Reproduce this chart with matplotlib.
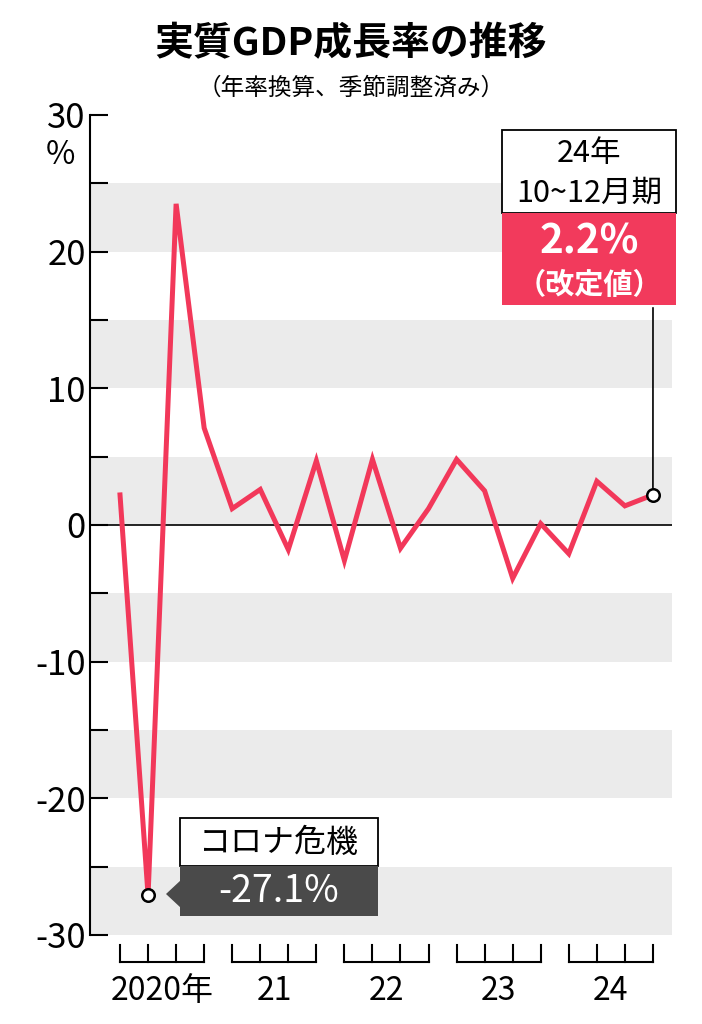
import matplotlib
matplotlib.use("Agg")
import matplotlib.pyplot as plt
from matplotlib.patches import Rectangle, Polygon

plt.rcParams['font.family'] = ['Noto Sans CJK JP', 'DejaVu Sans']

years = ['2020年', '21', '22', '23', '24']
growth = [2.2, -27.1, 23.5, 7.1,
          1.2, 2.6, -1.8, 4.7,
          -2.6, 4.8, -1.7, 1.2,
          4.8, 2.5, -3.9, 0.1,
          -2.1, 3.2, 1.4, 2.2]
yticks = [30, 20, 10, 0, -10, -20, -30]
ytick_labels = ['30', '20', '10', '0', '-10', '-20', '-30']

W, H = 702, 1024
fig = plt.figure(figsize=(W/100, H/100), dpi=100)
def fx(x): return x / W
def fy(y): return 1 - y / H

ax = fig.add_axes([fx(90), fy(935), fx(672) - fx(90), fy(115) - fy(935)])
red = '#F2385A'
n = len(growth)
xs = list(range(n))
ax.set_xlim(-1.07, 19.68)
ax.set_ylim(-30, 30)

for lo in [20, 10, 0, -10, -20, -30]:
    ax.axhspan(lo, lo + 5, color='#EBEBEB', lw=0, zorder=0)
ax.axhline(0, color='black', lw=1.2, zorder=1)
ax.plot(xs, growth, color=red, lw=3.6, zorder=3, solid_joinstyle='miter')
for i in [1, n - 1]:
    ax.plot(xs[i], growth[i], 'o', ms=9, mfc='white', mec='black', mew=1.8, zorder=5)

for s in ['top', 'right', 'bottom']:
    ax.spines[s].set_visible(False)
ax.spines['left'].set_linewidth(1.5)
ax.set_yticks(yticks)
ax.set_yticklabels(ytick_labels, fontsize=25)
ax.set_yticks(range(-25, 30, 10), minor=True)
ax.tick_params(axis='y', which='both', direction='in', length=13, width=1.5, pad=3)
ax.set_xticks([])
fig.text(fx(60), fy(155), '%', fontsize=23, ha='center', va='center')

trans = ax.get_xaxis_transform()
ytop, ybot = -0.012, -0.033
for k, lab in enumerate(years):
    q = xs[4*k:4*k+4]
    ax.plot([q[0], q[-1]], [ybot, ybot], color='black', lw=1.5, transform=trans, clip_on=False)
    for x in q:
        ax.plot([x, x], [ytop, ybot], color='black', lw=1.5, transform=trans, clip_on=False)
    ax.text((q[0] + q[-1]) / 2, -0.068, lab, transform=trans, ha='center', va='center', fontsize=23)

fig.text(0.5, fy(44), '実質GDP成長率の推移', ha='center', va='center', fontsize=28, fontweight='bold')
fig.text(0.5, fy(88), '（年率換算、季節調整済み）', ha='center', va='center', fontsize=17)

def rect(x0, y0, x1, y1, fc, ec='none', lw=0, z=10):
    fig.patches.append(Rectangle((fx(x0), fy(y1)), fx(x1) - fx(x0), fy(y0) - fy(y1),
                                 transform=fig.transFigure, fc=fc, ec=ec, lw=lw, zorder=z))

rect(180, 818, 378, 866, 'white', 'black', 1.3)
rect(180, 866, 378, 916, '#4A4A4A')
fig.patches.append(Polygon([(fx(166), fy(894)), (fx(181), fy(880)), (fx(181), fy(908))],
                           closed=True, transform=fig.transFigure, fc='#4A4A4A', ec='none', zorder=10))
fig.text(fx(279), fy(843), 'コロナ危機', ha='center', va='center', fontsize=23, zorder=11)
fig.text(fx(279), fy(892), '-27.1%', ha='center', va='center', fontsize=27, color='white', zorder=11)

ax.annotate('', xy=(xs[-1], growth[-1]), xycoords='data',
            xytext=(fx(653), fy(305)), textcoords='figure fraction',
            arrowprops=dict(arrowstyle='-', color='black', lw=1.2, shrinkB=5))
rect(502, 130, 676, 213, 'white', 'black', 1.3)
rect(502, 213, 676, 305, '#F23A5C')
fig.text(fx(589), fy(153), '24年', ha='center', va='center', fontsize=22, zorder=11)
fig.text(fx(589), fy(193), '10~12月期', ha='center', va='center', fontsize=22, zorder=11)
fig.text(fx(589), fy(242), '2.2%', ha='center', va='center', fontsize=29, color='white',
         fontweight='bold', zorder=11)
fig.text(fx(589), fy(285), '（改定値）', ha='center', va='center', fontsize=21, color='white',
         fontweight='bold', zorder=11)

fig.savefig('out.png', dpi=100)
